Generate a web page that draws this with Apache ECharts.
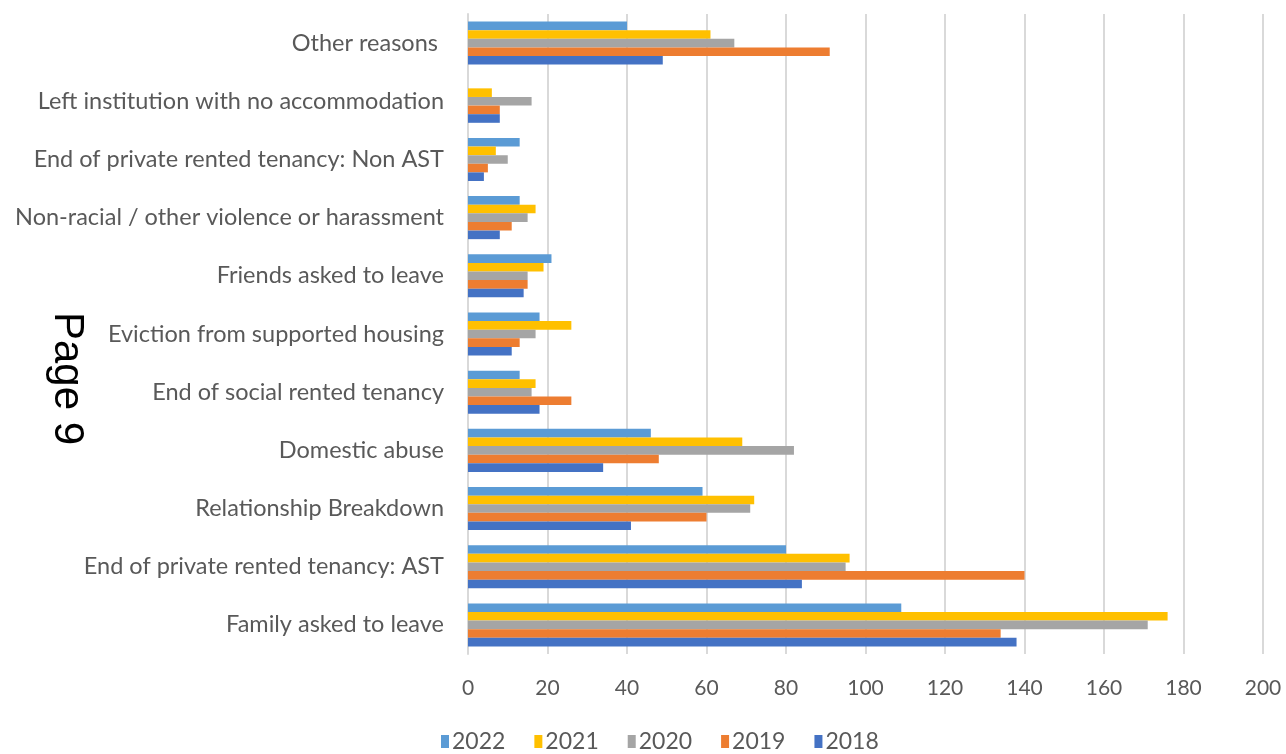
<!DOCTYPE html>
<html>
<head>
<meta charset="utf-8">
<script src="https://cdn.jsdelivr.net/npm/echarts@6/dist/echarts.min.js"></script>
<style>
html,body{margin:0;padding:0;background:#fff;}
#chart{width:1286px;height:754px;}
</style>
</head>
<body>
<div id="chart"></div>
<script>
// Categories, bottom to top
const categories = [
  "Family asked to leave",
  "End of private rented tenancy: AST",
  "Relationship Breakdown",
  "Domestic abuse",
  "End of social rented tenancy",
  "Eviction from supported housing",
  "Friends asked to leave",
  "Non-racial / other violence or harassment",
  "End of private rented tenancy: Non AST",
  "Left institution with no accommodation",
  "Other reasons "
];
// Series listed top-of-group first
const years = ["2022", "2021", "2020", "2019", "2018"];
const values2022 = [109, 80, 59, 46, 13, 18, 21, 13, 13, 0, 40];
const values2021 = [176, 96, 72, 69, 17, 26, 19, 17, 7, 6, 61];
const values2020 = [171, 95, 71, 82, 16, 17, 15, 15, 10, 16, 67];
const values2019 = [134, 140, 60, 48, 26, 13, 15, 11, 5, 8, 91];
const values2018 = [138, 84, 41, 34, 18, 11, 14, 8, 4, 8, 49];
const legendOrder = ["2022", "2021", "2020", "2019", "2018"];
const xTicks = { min: 0, max: 200, interval: 20 };

const seriesValues = [values2022, values2021, values2020, values2019, values2018];
const colors = ["#5B9BD5", "#FFC000", "#A5A5A5", "#ED7D31", "#4472C4"];
const FONT = 'Lato, "Liberation Sans", sans-serif';

const chart = echarts.init(document.getElementById('chart'));
chart.setOption({
  animation: false,
  backgroundColor: '#ffffff',
  grid: { left: 468, right: 23, top: 14, bottom: 100, containLabel: false, outerBoundsMode: 'none' },
  xAxis: {
    type: 'value', min: xTicks.min, max: xTicks.max, interval: xTicks.interval,
    axisLine: { show: false },
    axisTick: { show: false },
    splitLine: { show: true, lineStyle: { color: '#D9D9D9', width: 2 } },
    axisLabel: { color: '#595959', fontFamily: FONT, fontSize: 21, margin: 24 }
  },
  yAxis: {
    type: 'category', data: categories,
    axisLine: { show: true, lineStyle: { color: '#D9D9D9', width: 2 } },
    axisTick: { show: false },
    axisLabel: { color: '#595959', fontFamily: FONT, fontSize: 23.5, margin: 24 }
  },
  legend: {
    data: legendOrder,
    bottom: -4, left: 436,
    itemWidth: 8, itemHeight: 13, itemGap: 29,
    icon: 'rect',
    textStyle: { color: '#595959', fontFamily: FONT, fontSize: 23, padding: [0,0,0,-2] }
  },
  graphic: [{
    type: 'text', left: 46, top: 312,
    rotation: -Math.PI / 2,
    style: { text: 'Page 9', fontSize: 42, fontFamily: '"Liberation Sans", Arial, sans-serif', fill: '#000' }
  }],
  series: years.map((y, i) => ({
    name: y, type: 'bar', data: seriesValues[i],
    itemStyle: { color: colors[i] },
    barGap: '0%', barCategoryGap: '26%'
  }))
});
</script>
</body>
</html>
